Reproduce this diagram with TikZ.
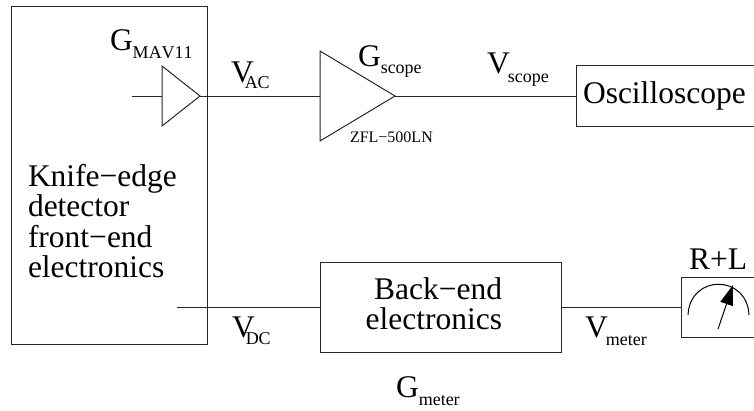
\documentclass[tikz,border=0pt]{standalone}
\usepackage{fontspec}
\setmainfont{Liberation Serif}
\usetikzlibrary{arrows.meta}
\newcommand{\bigtxt}{\fontsize{31.5}{31.5}\selectfont}
\newcommand{\subtxt}[3]{\hspace{#2}\raisebox{#1}{\fontsize{18}{18}\selectfont\addfontfeatures{Kerning=Off}#3}}
\tikzset{
  x=1pt,y=-1pt,
  wire/.style={draw=black!85,line width=1pt},
  boxnode/.style={draw=black!85,line width=1pt,rectangle,inner sep=0pt,outer sep=0pt},
  lbl/.style={inner sep=0pt,outer sep=0pt,font=\bigtxt},
}
\begin{document}
\begin{tikzpicture}
\useasboundingbox (0,0) rectangle (754,410);
\clip (0,0) rectangle (754,410);
% boxes
\node[boxnode,minimum width=195.3pt,minimum height=338pt] (fe) at (109.35,175) {};
\node[boxnode,minimum width=220pt,minimum height=61pt,anchor=west] (osc) at (576,96) {};
\node[boxnode,minimum width=241pt,minimum height=90pt,anchor=west] (be) at (320,307) {};
\node[boxnode,minimum width=110pt,minimum height=60pt,anchor=west] (mt) at (681,307) {};
% amplifiers
\coordinate (a1t) at (162,66); \coordinate (a1b) at (162,126); \coordinate (a1o) at (200,96); \coordinate (a1i) at (162,96);
\coordinate (a2t) at (320,51); \coordinate (a2b) at (320,141); \coordinate (a2o) at (395,96); \coordinate (a2i) at (320,96);
\draw[wire] (a1t) -- (a1o) -- (a1b) -- cycle;
\draw[wire] (a2t) -- (a2o) -- (a2b) -- cycle;
% connectors
\coordinate (in) at (132,96);
\coordinate (dc) at (177,307);
\draw[wire] (in) -- (a1i);
\draw[wire] (a1o) -- (a2i);
\draw[wire] (a2o) -- (osc.west);
\draw[wire] (dc) -- (be.west);
\draw[wire] (be.east) -- (mt.west);
% meter
\coordinate (arcl) at (688,315); \coordinate (arcr) at (749,315);
\coordinate (nb) at (718,329); \coordinate (nt) at (733,285);
\draw[line width=1pt] (arcl) .. controls (690,274) and (747,274) .. (arcr);
\draw[line width=1pt,-{Triangle[length=20pt,width=13pt]}] (nb) -- (nt);
% labels
\node[lbl,anchor=base west] (g1) at (110,50) {G\subtxt{-8pt}{0pt}{MAV11}};
\node[lbl,anchor=base west] (vac) at (231,82) {V\subtxt{-6pt}{-9pt}{AC}};
\node[lbl,anchor=base west] (g2) at (358,66) {G\subtxt{-7pt}{0pt}{scope}};
\node[lbl,anchor=base west] (vs) at (487,73) {V\subtxt{-9pt}{-2pt}{scope}};
\node[lbl,anchor=base west] (ot) at (583,103) {Oscilloscope};
\node[inner sep=0pt,outer sep=0pt,anchor=base west,font=\fontsize{16}{16}\selectfont] (zfl) at (350,142) {ZFL−500LN};
\node[lbl,anchor=west,align=left,font=\fontsize{31.5}{30.4}\selectfont] (ft) at (28,221) {Knife−edge\\detector\\front−end\\electronics};
\node[lbl,anchor=east,align=right,font=\fontsize{31.5}{30}\selectfont] (bt) at (502,304) {Back−end\\electronics};
\node[lbl,anchor=base west] (vdc) at (232,337) {V\subtxt{-7pt}{-9pt}{DC}};
\node[lbl,anchor=base west] (vm) at (585,337) {V\subtxt{-8pt}{-2pt}{meter}};
\node[lbl,anchor=base west] (gm) at (396,397) {G\subtxt{-8pt}{0pt}{meter}};
\node[lbl,anchor=base west] (rl) at (689,269) {R+L};
\end{tikzpicture}
\end{document}
